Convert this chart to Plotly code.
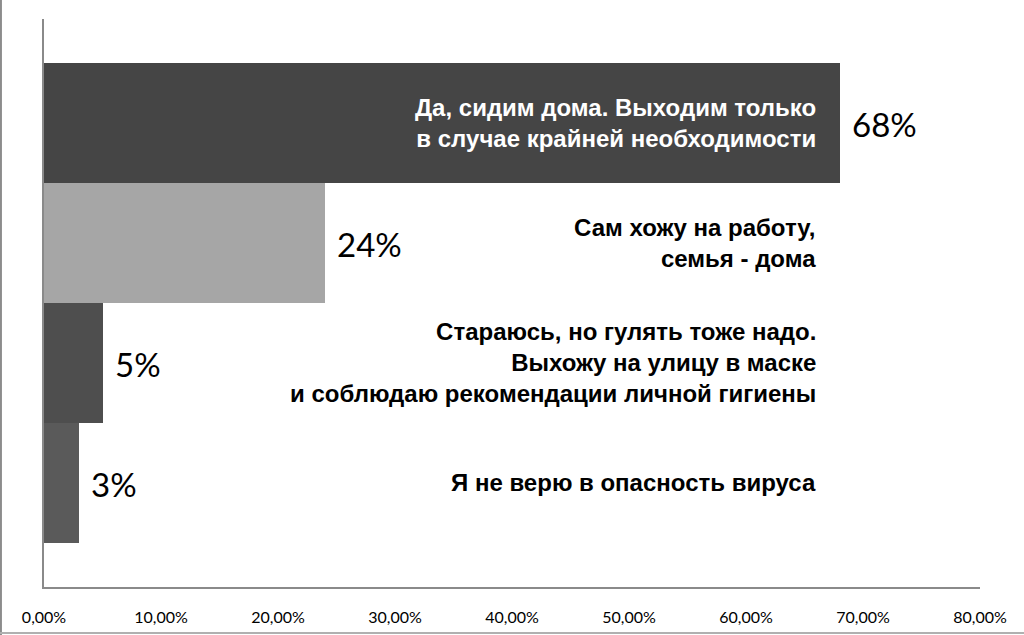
import plotly.graph_objects as go

# survey answers, top to bottom
answers = [
    "Да, сидим дома. Выходим только<br>в случае крайней необходимости",
    "Сам хожу на работу,<br>семья - дома",
    "Стараюсь, но гулять тоже надо.<br>Выхожу на улицу в маске<br>и соблюдаю рекомендации личной гигиены",
    "Я не верю в опасность вируса",
]
shares = [0.68, 0.24, 0.05, 0.03]
share_labels = ["68%", "24%", "5%", "3%"]
bar_colors = ["#454545", "#a6a6a6", "#4e4e4e", "#5a5a5a"]
x_ticks = [0, 0.1, 0.2, 0.3, 0.4, 0.5, 0.6, 0.7, 0.8]

pos = list(range(len(answers)))

fig = go.Figure(go.Bar(
    x=shares,
    y=pos,
    orientation="h",
    width=1,
    marker=dict(color=bar_colors, line=dict(width=0)),
    hoverinfo="skip",
))

# percentages just right of each bar
for p, v, t in zip(pos, shares, share_labels):
    fig.add_annotation(x=v, y=p, text=t, showarrow=False, xanchor="left",
                       xshift=10, yshift=-1,
                       font=dict(family="Lato, Open Sans, sans-serif", size=33, color="#000000"))

# answer texts, right aligned
for i, (p, a) in enumerate(zip(pos, answers)):
    fig.add_annotation(x=0.6615, y=p, text="<b>" + a + "</b>", showarrow=False,
                       xanchor="right", align="right",
                       font=dict(family="Liberation Sans, Arial, sans-serif", size=24,
                                 color="#ffffff" if i == 0 else "#000000"))

# thin frame left and bottom, like the cropped picture
fig.add_shape(type="line", xref="paper", yref="paper", x0=-0.046, x1=-0.046, y0=-0.085, y1=1.1,
              line=dict(color="#8c8c8c", width=2))
fig.add_shape(type="line", xref="paper", yref="paper", x0=-0.05, x1=1.05, y0=-0.081, y1=-0.081,
              line=dict(color="#b0b0b0", width=2))

fig.update_layout(
    width=1024, height=635,
    margin=dict(l=44, r=44, t=19, b=48, autoexpand=False),
    plot_bgcolor="#ffffff", paper_bgcolor="#ffffff",
    separators=", ",
    showlegend=False,
    bargap=0,
)
fig.update_xaxes(range=[0, 0.8], tickvals=x_ticks, tickformat=".2%",
                 showgrid=False, zeroline=False, automargin=False,
                 showline=True, linecolor="#8a8a8a", linewidth=2,
                 ticks="", ticklabelstandoff=15,
                 tickfont=dict(family="Lato, Open Sans, sans-serif", size=16, color="#000000"))
fig.update_yaxes(range=[3.867, -0.867], showticklabels=False, showgrid=False,
                 zeroline=False, showline=True, linecolor="#8a8a8a", linewidth=2,
                 ticks="", automargin=False)

fig.write_html("out.html", config={"displayModeBar": False},
               post_script="document.body.style.margin='0';")
